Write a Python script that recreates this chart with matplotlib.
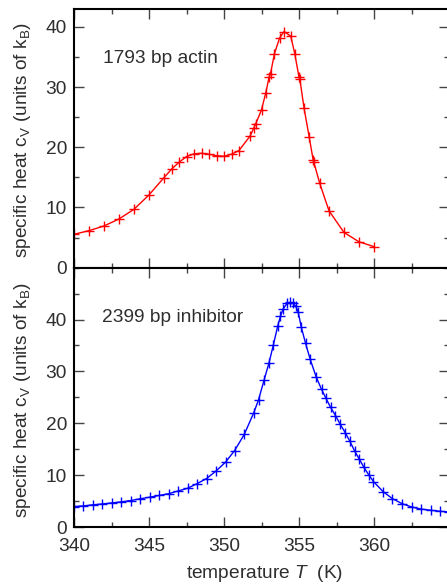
import matplotlib
matplotlib.use("Agg")
import matplotlib.pyplot as plt
from matplotlib.ticker import MultipleLocator

plt.rcParams["font.family"] = ["Liberation Sans", "DejaVu Sans"]
plt.rcParams["mathtext.fontset"] = "custom"
plt.rcParams["mathtext.rm"] = "Liberation Sans"
plt.rcParams["mathtext.it"] = "Liberation Sans:italic"
plt.rcParams["mathtext.bf"] = "Liberation Sans:bold"

TEXT = "#2e2e2e"
FS = 13.8

# 1793 bp actin: specific heat vs temperature
actin_T = [340.0, 341.0, 342.0, 343.0, 344.0, 345.0, 346.0, 346.5, 347.0, 347.5,
           348.0, 348.5, 349.0, 349.5, 350.0, 350.5, 351.0, 351.75, 352.0, 352.1,
           352.5, 352.78, 353.0, 353.1, 353.36, 353.7, 354.0, 354.45, 354.72, 355.0,
           355.06, 355.34, 355.68, 355.95, 355.99, 356.37, 357.0, 358.0, 359.0, 360.0]
actin_cv = [5.55, 6.15, 6.93, 8.09, 9.7, 12.08, 14.96, 16.35, 17.5, 18.45,
            18.9, 19.0, 18.84, 18.6, 18.5, 18.84, 19.45, 21.9, 23.27, 23.8,
            26.2, 28.98, 31.58, 32.2, 35.5, 38.1, 39.2, 38.45, 35.5, 31.65,
            31.25, 26.45, 21.7, 17.8, 17.5, 14.1, 9.45, 5.85, 4.3, 3.5]

# 2399 bp inhibitor: specific heat vs temperature
inhib_T = [340.0, 340.6, 341.25, 341.9, 342.5, 343.15, 343.78, 344.42, 345.05, 345.68,
           346.3, 346.95, 347.58, 348.22, 348.84, 349.47, 350.1, 350.71, 351.35, 351.98,
           352.3, 352.68, 353.0, 353.29, 353.58, 353.76, 353.93, 354.2, 354.4, 354.6,
           354.78, 354.95, 355.15, 355.44, 355.75, 356.15, 356.5, 356.8, 357.1, 357.43,
           357.73, 358.08, 358.38, 358.7, 359.02, 359.33, 359.65, 359.96, 360.6, 361.22,
           361.87, 362.5, 363.15, 363.8, 364.4, 365.0]
inhib_cv = [3.95, 4.06, 4.28, 4.45, 4.64, 4.85, 5.1, 5.45, 5.75, 6.08,
            6.42, 6.95, 7.48, 8.38, 9.35, 10.8, 12.5, 14.75, 17.85, 22.0,
            24.5, 28.4, 31.66, 35.1, 38.74, 40.6, 42.0, 43.1, 43.3, 43.1,
            42.6, 41.4, 38.55, 35.4, 32.3, 28.9, 26.55, 24.8, 23.1, 21.5,
            19.9, 18.2, 16.6, 14.7, 13.1, 11.5, 10.06, 8.77, 6.84, 5.48,
            4.5, 3.87, 3.45, 3.22, 3.03, 2.9]

x_range = (340, 365)
x_ticks = [340, 345, 350, 355, 360]
y_ticks = [0, 10, 20, 30, 40]
ylabel = "specific heat c$_\\mathrm{V}$ (units of k$_\\mathrm{B}$)"
xlabel = "temperature $T$  (K)"

W, H = 447, 587
fig = plt.figure(figsize=(W / 100, H / 100), dpi=100)


def px_box(left, top, right, bottom):
    return [left / W, 1 - bottom / H, (right - left) / W, (bottom - top) / H]


ax_top = fig.add_axes(px_box(74, 8.7, 449, 267.7))
ax_bot = fig.add_axes(px_box(74, 267.7, 449, 527.0))


def style(ax, ymax, show_x):
    ax.set_xlim(*x_range)
    ax.set_ylim(0, ymax)
    ax.xaxis.set_major_locator(MultipleLocator(5))
    ax.xaxis.set_minor_locator(MultipleLocator(2.5))
    ax.yaxis.set_major_locator(MultipleLocator(10))
    ax.yaxis.set_minor_locator(MultipleLocator(5))
    ax.tick_params(which="both", direction="in", top=True, right=True,
                   color="#444444", width=1.0, labelcolor=TEXT, labelsize=FS)
    ax.tick_params(which="major", length=7)
    ax.tick_params(which="minor", length=3.6)
    ax.tick_params(axis="y", pad=5)
    ax.tick_params(axis="x", pad=8, labelbottom=show_x)
    ax.set_yticks(y_ticks)
    if show_x:
        ax.set_xticks(x_ticks)
    for s in ax.spines.values():
        s.set_linewidth(1.5)
        s.set_color("black")


style(ax_top, 43, False)
style(ax_bot, 50, True)

ax_top.plot(actin_T, actin_cv, color="#ff0000", lw=1.0, marker="+",
            ms=7, mew=1.0, clip_on=True)
ax_bot.plot(inhib_T, inhib_cv, color="#0000ff", lw=1.0, marker="+",
            ms=7, mew=1.0, clip_on=True)

ax_top.text(0.077, 0.7915, "1793 bp actin", transform=ax_top.transAxes,
            fontsize=FS, color=TEXT, va="baseline", ha="left")
ax_bot.text(0.074, 0.789, "2399 bp inhibitor", transform=ax_bot.transAxes,
            fontsize=FS, color=TEXT, va="baseline", ha="left")

fig.text(23 / W, 1 - 140 / H, ylabel, rotation=90, ha="center", va="center",
         fontsize=FS, color=TEXT)
fig.text(23 / W, 1 - 400 / H, ylabel, rotation=90, ha="center", va="center",
         fontsize=FS, color=TEXT)
fig.text(265 / W, 1 - 574 / H, xlabel, ha="center", va="center",
         fontsize=FS, color=TEXT)

fig.savefig("out.png", dpi=100)
